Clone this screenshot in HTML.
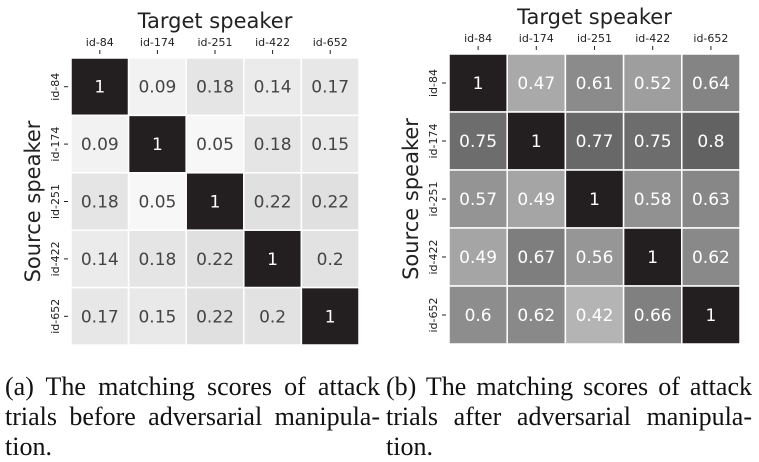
<!DOCTYPE html>
<html><head><meta charset="utf-8"><style>
body{margin:0;background:#fff;width:759px;height:462px;overflow:hidden;position:relative}
svg{position:absolute;left:0;top:0}
.cap{position:absolute;font-family:"Liberation Serif",serif;font-size:26px;color:#111;line-height:30px;text-align:justify;white-space:nowrap}
.cap div{text-align:justify;text-align-last:justify}
</style></head><body>
<svg width="759" height="462" font-family="DejaVu Sans, sans-serif" id="s"></svg>
<div class="cap" style="left:5px;top:372px;width:375px"><div>(a) The matching scores of attack</div><div>trials before adversarial manipula-</div><div style="text-align-last:left">tion.</div></div>
<div class="cap" style="left:386px;top:372px;width:366px"><div>(b) The matching scores of attack</div><div>trials after adversarial manipula-</div><div style="text-align-last:left">tion.</div></div>
<script>
var ids=["id-84","id-174","id-251","id-422","id-652"];
var A=[[1,.09,.18,.14,.17],[.09,1,.05,.18,.15],[.18,.05,1,.22,.22],[.14,.18,.22,1,.2],[.17,.15,.22,.2,1]];
var B=[[1,.47,.61,.52,.64],[.75,1,.77,.75,.8],[.57,.49,1,.58,.63],[.49,.67,.56,1,.62],[.6,.62,.42,.66,1]];
var s="";
function g(x0,y0,w,h,M,f,dark,ylx){
 for(var r=0;r<5;r++)for(var c=0;c<5;c++){
  var v=M[r][c],col;
  if(v==1)col="#231f20";else{var k=Math.round(f(v));col="rgb("+k+","+k+","+k+")";}
  var x=x0+c*w,y=y0+r*h;
  s+='<rect x="'+x+'" y="'+y+'" width="'+w+'" height="'+h+'" fill="'+col+'" stroke="#fff" stroke-width="1.5"/>';
  var tc=(v==1||dark)?"#fff":"#444";
  s+='<text x="'+(x+w/2)+'" y="'+(y+h/2+6)+'" font-size="17" fill="'+tc+'" text-anchor="middle">'+v+'</text>';
 }
 for(var i=0;i<5;i++){
  var cx=x0+i*w+w/2, cy=y0+i*h+h/2;
  s+='<text x="'+cx+'" y="'+(y0-12)+'" font-size="11" fill="#222" text-anchor="middle">'+ids[i]+'</text>';
  s+='<line x1="'+cx+'" y1="'+(y0-8)+'" x2="'+cx+'" y2="'+(y0-4)+'" stroke="#222"/>';
  s+='<text transform="translate('+(x0-12)+','+cy+') rotate(-90)" font-size="11" fill="#222" text-anchor="middle">'+ids[i]+'</text>';
  s+='<line x1="'+(x0-7)+'" y1="'+cy+'" x2="'+(x0-3)+'" y2="'+cy+'" stroke="#222"/>';
 }
 s+='<text x="'+(x0+2.5*w)+'" y="'+(y0-30)+'" font-size="21" fill="#222" text-anchor="middle">Target speaker</text>';
 s+='<text transform="translate('+ylx+','+(y0+2.5*h)+') rotate(-90)" font-size="21" fill="#222" text-anchor="middle">Source speaker</text>';
}
g(71,58,57.6,57.4,A,function(v){return 254-138*v;},false,40);
g(449,54,58.2,58,B,function(v){return 169-215*(v-0.47);},true,418);
document.getElementById("s").innerHTML=s;
</script>
</body></html>
